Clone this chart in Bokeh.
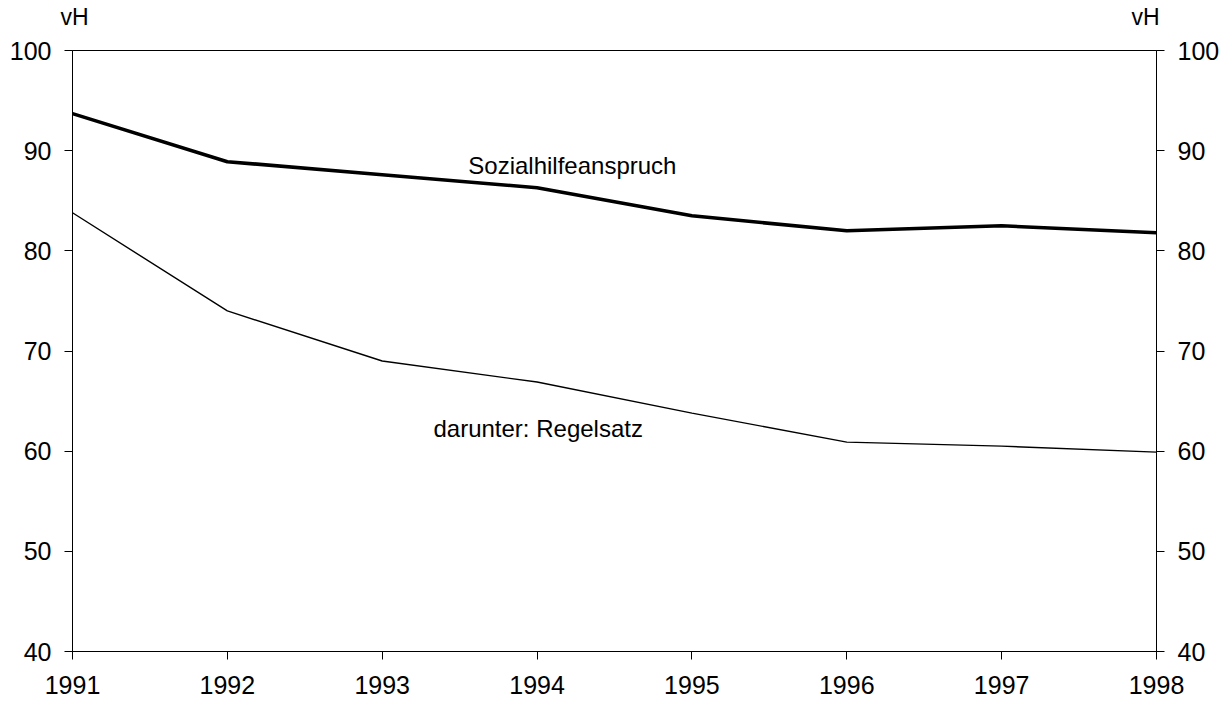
from bokeh.plotting import figure
from bokeh.models import LinearAxis, Label, FixedTicker
from bokeh.embed import file_html
from bokeh.resources import INLINE

years = [1991, 1992, 1993, 1994, 1995, 1996, 1997, 1998]
sozialhilfeanspruch = [93.7, 88.9, 87.6, 86.3, 83.5, 82.0, 82.5, 81.8]
regelsatz = [83.8, 74.0, 69.0, 66.9, 63.8, 60.9, 60.5, 59.9]
y_ticks = [40, 50, 60, 70, 80, 90, 100]
unit_label = "vH"
label_soz = "Sozialhilfeanspruch"
label_reg = "darunter: Regelsatz"

FONT = "Liberation Sans"

p = figure(width=1225, height=701, output_backend="svg", toolbar_location=None,
           x_range=(1991, 1998), y_range=(40, 100),
           min_border_left=72, min_border_right=69, min_border_top=50, min_border_bottom=50)
p.xgrid.visible = False
p.ygrid.visible = False
p.outline_line_color = "black"
p.outline_line_width = 1
p.background_fill_color = "white"
p.border_fill_color = "white"

p.line(years, sozialhilfeanspruch, line_color="black", line_width=3.6)
p.line(years, regelsatz, line_color="black", line_width=1.4)

right_axis = LinearAxis()
p.add_layout(right_axis, "right")

# unit labels above the two value axes
unit_pos = [1991.013, 1997.93]
top_axis = LinearAxis(ticker=FixedTicker(ticks=unit_pos),
                      major_label_overrides={unit_pos[0]: unit_label, unit_pos[1]: unit_label})
top_axis.axis_line_color = None
top_axis.major_tick_line_color = None
top_axis.minor_tick_line_color = None
top_axis.major_tick_out = 0
top_axis.major_label_standoff = 21
top_axis.major_label_text_font = FONT
top_axis.major_label_text_font_size = "23px"
top_axis.major_label_text_color = "black"
p.add_layout(top_axis, "above")

for ax in p.left + p.right:
    if isinstance(ax, LinearAxis):
        ax.ticker = FixedTicker(ticks=y_ticks)
        ax.major_label_standoff = 13
for ax in p.below:
    ax.ticker = FixedTicker(ticks=years)
    ax.major_label_standoff = 16

for ax in list(p.below) + list(p.left) + list(p.right):
    ax.axis_line_color = "black"
    ax.axis_line_width = 1
    ax.major_tick_line_color = "black"
    ax.major_tick_out = 8
    ax.major_tick_in = 0
    ax.minor_tick_line_color = None
    ax.major_label_text_font = FONT
    ax.major_label_text_font_size = "25px"
    ax.major_label_text_color = "black"

p.add_layout(Label(x=1993.556, y=88.5, text=label_soz, text_font=FONT,
                   text_font_size="24px", text_baseline="alphabetic", text_color="black"))
p.add_layout(Label(x=1993.331, y=62.3, text=label_reg, text_font=FONT,
                   text_font_size="24px", text_baseline="alphabetic", text_color="black"))

open("out.html", "w").write(file_html(p, INLINE))
